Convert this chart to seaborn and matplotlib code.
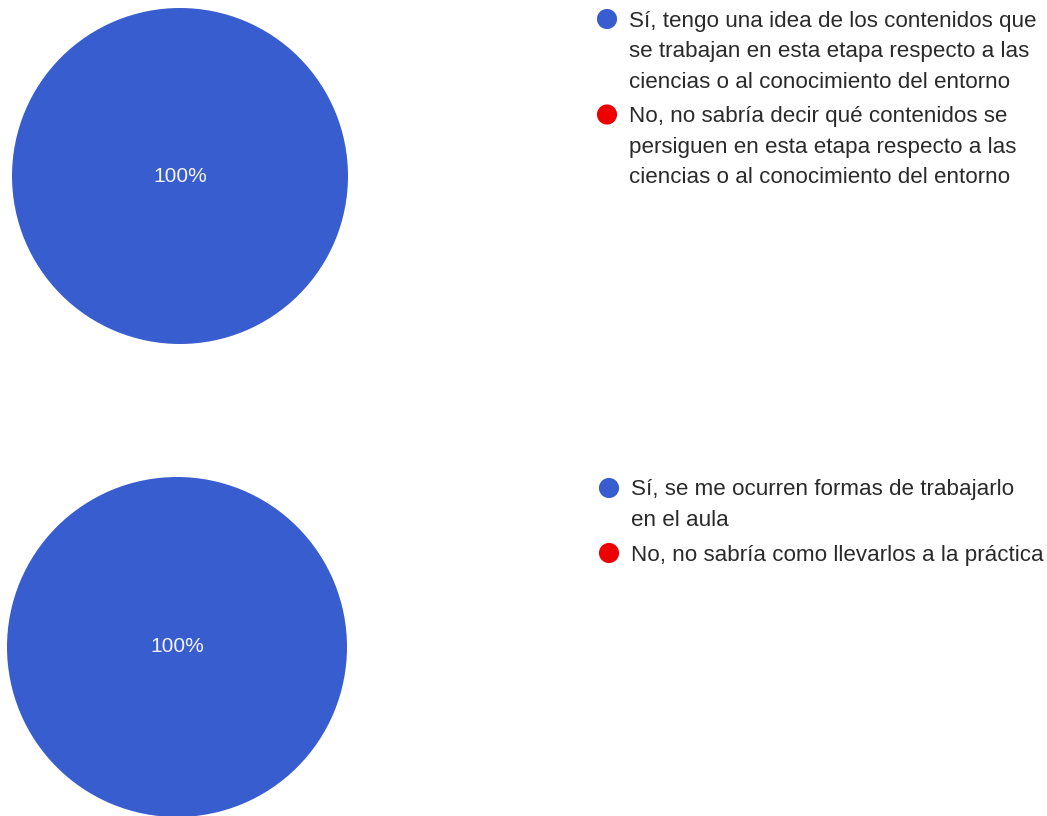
import matplotlib
matplotlib.use("Agg")
import matplotlib.pyplot as plt
import seaborn as sns

# Survey answers (percent of respondents)
q1_labels = [
    "Sí, tengo una idea de los contenidos que\nse trabajan en esta etapa respecto a las\nciencias o al conocimiento del entorno",
    "No, no sabría decir qué contenidos se\npersiguen en esta etapa respecto a las\nciencias o al conocimiento del entorno",
]
q1_values = [100, 0]

q2_labels = [
    "Sí, se me ocurren formas de trabajarlo\nen el aula",
    "No, no sabría como llevarlos a la práctica",
]
q2_values = [100, 0]

answer_colors = ["#385dce", "#ee0000"]

sns.set_theme(style="white")
plt.rcParams["font.family"] = ["Liberation Sans", "DejaVu Sans"]

W, H = 1047, 816
fig = plt.figure(figsize=(W / 100, H / 100), dpi=100)
ax = fig.add_axes([0, 0, 1, 1])


def pct_label(p):
    return f"{p:.0f}%" if p > 0.5 else ""


def draw_question(values, labels, center, radius, legend_xy):
    wedges, _, autotexts = ax.pie(
        values,
        colors=answer_colors,
        center=center,
        radius=radius,
        startangle=90,
        autopct=pct_label,
        pctdistance=0.0,
        wedgeprops=dict(linewidth=0),
        textprops=dict(color="#f4f4f4", fontsize=15),
    )
    for t in autotexts:
        t.set_va("center")
        t.set_ha("center")

    lx, ly = legend_xy
    line_step = 30.5
    entry_gap = 4
    y = ly
    for lab, col in zip(labels, answer_colors):
        ax.scatter([lx], [y], s=210, color=col, edgecolor="none", zorder=3)
        for i, line in enumerate(lab.split("\n")):
            ax.text(lx + 22, y + i * line_step + 7.5, line, fontsize=16.1,
                    color="#2a2a2a", ha="left", va="baseline")
        y += len(lab.split("\n")) * line_step + entry_gap


draw_question(q1_values, q1_labels, center=(180, 176), radius=168, legend_xy=(607, 19))
draw_question(q2_values, q2_labels, center=(177, 647), radius=170, legend_xy=(609, 488))

ax.set_xlim(0, W)
ax.set_ylim(H, 0)
ax.set_aspect("equal")
ax.axis("off")

fig.savefig("out.png", dpi=100, facecolor="white")
